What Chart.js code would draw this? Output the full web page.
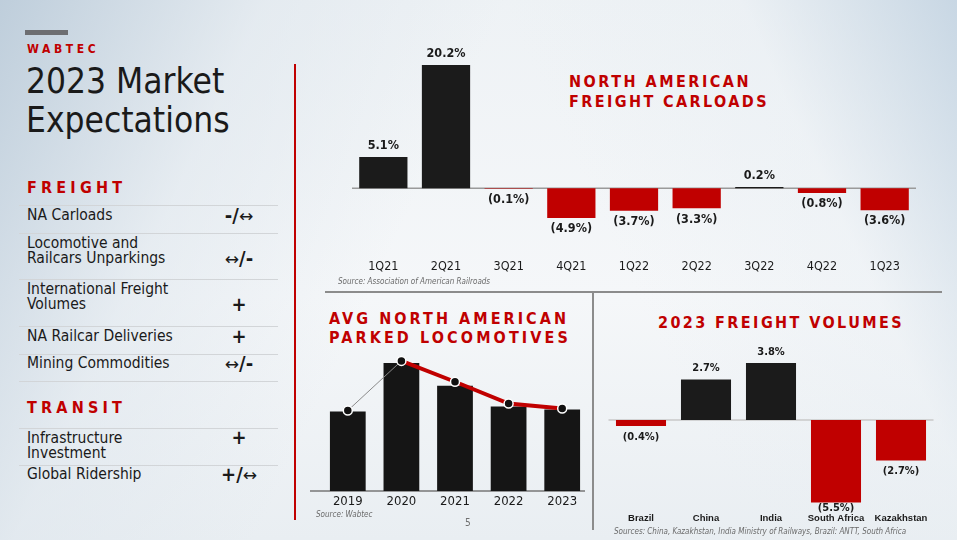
<!DOCTYPE html>
<html>
<head>
<meta charset="utf-8">
<script src="https://cdn.jsdelivr.net/npm/chart.js@4.4.0/dist/chart.umd.min.js"></script>
<style>
body {
  margin: 0; width: 957px; height: 540px; overflow: hidden; position: relative;
  font-family: 'DejaVu Sans Condensed', 'DejaVu Sans', sans-serif; color: #1a1a1a;
  background:
    linear-gradient(115deg, rgba(188,204,218,0.95) 0%, rgba(222,230,237,0.6) 22%, rgba(245,247,249,0) 42%),
    linear-gradient(245deg, rgba(196,212,226,0.9) 0%, rgba(232,238,243,0.4) 18%, rgba(255,255,255,0) 38%),
    linear-gradient(180deg, #eef2f5 0%, #f5f7f9 55%, #e9eef2 100%);
}
.t { position: absolute; white-space: nowrap; }
.red { color: #c00000; font-weight: bold; }
.row { position: absolute; left: 27px; font-size: 15.5px; line-height: 15px; white-space: nowrap; }
.sym { position: absolute; width: 50px; left: 214px; text-align: center; font-size: 18px; line-height: 20px; white-space: nowrap; }
.sym b { font-size: 20px; }
.sym span { font-family: 'DejaVu Sans', sans-serif; font-size: 17px; }
.rule { position: absolute; left: 19px; width: 259px; height: 0; border-top: 1.5px solid #d2d5d8; }
.src { position: absolute; font-size: 8px; font-style: italic; color: #6a6a6a; white-space: nowrap; }
canvas { position: absolute; }
</style>
</head>
<body>

<!-- Panneau de gauche -->
<div class="t" style="left:25px;top:30px;width:43px;height:5px;background:#6d6e71"></div>
<div class="t red" style="left:27px;top:42px;font-size:12px;letter-spacing:3.6px">WABTEC</div>
<div class="t" style="left:26px;top:62px;font-size:35px;line-height:39px">2023 Market<br>Expectations</div>

<div class="t red" style="left:27px;top:178px;font-size:16px;letter-spacing:4.2px">FREIGHT</div>
<div class="rule" style="top:205px"></div>
<div class="row" style="top:208px">NA Carloads</div>
<div class="sym" style="top:205px"><b>-/</b><span>&harr;</span></div>
<div class="rule" style="top:233px"></div>
<div class="row" style="top:236px">Locomotive and<br>Railcars Unparkings</div>
<div class="sym" style="top:248px"><span>&harr;</span><b>/-</b></div>
<div class="rule" style="top:279px"></div>
<div class="row" style="top:282px">International Freight<br>Volumes</div>
<div class="sym" style="top:294px"><b>+</b></div>
<div class="rule" style="top:326px"></div>
<div class="row" style="top:329px">NA Railcar Deliveries</div>
<div class="sym" style="top:326px"><b>+</b></div>
<div class="rule" style="top:354px"></div>
<div class="row" style="top:356px">Mining Commodities</div>
<div class="sym" style="top:353px"><span>&harr;</span><b>/-</b></div>
<div class="rule" style="top:381px"></div>

<div class="t red" style="left:27px;top:398px;font-size:16px;letter-spacing:4.2px">TRANSIT</div>
<div class="rule" style="top:428px"></div>
<div class="row" style="top:431px">Infrastructure<br>Investment</div>
<div class="sym" style="top:427px"><b>+</b></div>
<div class="rule" style="top:465px"></div>
<div class="row" style="top:467px">Global Ridership</div>
<div class="sym" style="top:464px"><b>+/</b><span>&harr;</span></div>

<!-- Séparateurs -->
<div class="t" style="left:294px;top:64px;width:1.5px;height:456px;background:#c00000"></div>
<div class="t" style="left:325px;top:291px;width:617px;height:1.5px;background:#8c8c8c"></div>
<div class="t" style="left:592px;top:293px;width:1.5px;height:237px;background:#8c8c8c"></div>

<!-- Titres -->
<div class="t red fit" data-w="182" style="left:569px;top:72px;font-size:16px">NORTH AMERICAN</div>
<div class="t red fit" data-w="200" style="left:569px;top:92px;font-size:16px">FREIGHT CARLOADS</div>
<div class="t red fit" data-w="240" style="left:329px;top:309px;font-size:16px">AVG NORTH AMERICAN</div>
<div class="t red fit" data-w="242" style="left:329px;top:328px;font-size:16px">PARKED LOCOMOTIVES</div>
<div class="t red fit" data-w="246" style="left:658px;top:313px;font-size:16px">2023 FREIGHT VOLUMES</div>

<!-- Graphiques -->
<canvas id="carloads" width="590" height="245" style="left:340px;top:40px"></canvas>
<canvas id="parked" width="290" height="180" style="left:305px;top:340px"></canvas>
<canvas id="volumes" width="350" height="190" style="left:600px;top:340px"></canvas>

<!-- Sources -->
<div class="src" style="left:338px;top:277px">Source: Association of American Railroads</div>
<div class="src" style="left:316px;top:510px">Source: Wabtec</div>
<div class="t" style="left:465px;top:517px;font-size:10px;color:#707070">5</div>
<div class="src" style="left:614px;top:527px">Sources: China, Kazakhstan, India Ministry of Railways, Brazil: ANTT, South Africa</div>

<script>
// Données
const quarters = ['1Q21', '2Q21', '3Q21', '4Q21', '1Q22', '2Q22', '3Q22', '4Q22', '1Q23'];
const carloadChange = [5.1, 20.2, -0.1, -4.9, -3.7, -3.3, 0.2, -0.8, -3.6];

const years = ['2019', '2020', '2021', '2022', '2023'];
const parkedBars = [80, 129, 106, 85, 82];
const parkedTrend = [81, 131, 110, 88, 83];

const countries = ['Brazil', 'China', 'India', 'South Africa', 'Kazakhstan'];
const volumeChange = [-0.4, 2.7, 3.8, -5.5, -2.7];

const BLACK = '#1b1b1b';
const RED = '#c00000';
const FONT = "'DejaVu Sans Condensed', 'DejaVu Sans', sans-serif";

Chart.defaults.font.family = FONT;
Chart.defaults.color = '#1a1a1a';
Chart.defaults.animation = false;

// Ajuste l'espacement des titres à la largeur voulue
document.querySelectorAll('.fit').forEach(el => {
  const n = el.textContent.length;
  const w = el.getBoundingClientRect().width;
  el.style.letterSpacing = ((+el.dataset.w - w) / n) + 'px';
});

// Etiquettes de valeur au-dessus / en dessous des barres
const valueLabels = {
  id: 'valueLabels',
  afterDatasetsDraw(chart, args, opts) {
    if (!opts.display) return;
    const ctx = chart.ctx;
    const meta = chart.getDatasetMeta(0);
    const data = chart.data.datasets[0].data;
    ctx.save();
    ctx.font = opts.font;
    ctx.fillStyle = '#1a1a1a';
    ctx.textAlign = 'center';
    ctx.textBaseline = 'middle';
    meta.data.forEach((bar, i) => {
      const v = data[i];
      const txt = v < 0 ? '(' + Math.abs(v).toFixed(1) + '%)' : v.toFixed(1) + '%';
      let y = v < 0 ? bar.y + opts.offset : bar.y - opts.offset;
      y = Math.min(y, chart.chartArea.bottom);
      ctx.fillText(txt, bar.x, y);
    });
    ctx.restore();
  }
};

// Ligne de base à zéro
const baseline = {
  id: 'baseline',
  beforeDatasetsDraw(chart, args, opts) {
    const ctx = chart.ctx;
    const y = chart.scales.y.getPixelForValue(0);
    const area = chart.chartArea;
    ctx.save();
    ctx.strokeStyle = opts.color || '#999';
    ctx.lineWidth = opts.width || 1.5;
    ctx.beginPath();
    ctx.moveTo(area.left - (opts.extendLeft || 0), y);
    ctx.lineTo(area.right + (opts.extendRight || 0), y);
    ctx.stroke();
    ctx.restore();
  }
};

function xAxis(height, padding, font) {
  return {
    grid: { display: false, drawTicks: false },
    border: { display: false },
    ticks: { padding: padding, font: font, color: '#1a1a1a', maxRotation: 0, autoSkip: false },
    afterFit: (s) => { s.height = height; }
  };
}

// North American freight carloads
new Chart(document.getElementById('carloads'), {
  type: 'bar',
  data: {
    labels: quarters,
    datasets: [{
      data: carloadChange,
      backgroundColor: carloadChange.map(v => v < 0 ? RED : BLACK),
      barPercentage: 0.77,
      categoryPercentage: 1
    }]
  },
  options: {
    responsive: false,
    layout: { padding: { left: 12, right: 14, top: 14, bottom: 0 } },
    scales: {
      x: xAxis(48, 22, { size: 12.5 }),
      y: { display: false, min: -8, max: 22 }
    },
    plugins: {
      legend: { display: false },
      tooltip: { enabled: false },
      valueLabels: { display: true, font: 'bold 12.5px ' + FONT, offset: 11 },
      baseline: { color: '#9a9a9a', width: 1.5 }
    }
  },
  plugins: [baseline, valueLabels]
});

// Avg North American parked locomotives
new Chart(document.getElementById('parked'), {
  data: {
    labels: years,
    datasets: [
      {
        type: 'line',
        data: parkedTrend,
        order: 0,
        borderColor: RED,
        segment: {
          borderColor: (c) => c.p0DataIndex === 0 ? '#8a8a8a' : RED,
          borderWidth: (c) => c.p0DataIndex === 0 ? 1 : 4
        },
        pointRadius: 4.5,
        pointBackgroundColor: '#111',
        pointBorderColor: '#ffffff',
        pointBorderWidth: 1.5
      },
      {
        type: 'bar',
        data: parkedBars,
        order: 1,
        backgroundColor: '#151515',
        barPercentage: 0.667,
        categoryPercentage: 1
      }
    ]
  },
  options: {
    responsive: false,
    layout: { padding: { left: 16, right: 4, top: 5, bottom: 0 } },
    scales: {
      x: xAxis(29, 3, { size: 13 }),
      y: { display: false, min: 0, max: 146 }
    },
    plugins: {
      legend: { display: false },
      tooltip: { enabled: false },
      baseline: { color: '#777', width: 1.5, extendLeft: 11, extendRight: -4 }
    }
  },
  plugins: [baseline]
});

// 2023 freight volumes
new Chart(document.getElementById('volumes'), {
  type: 'bar',
  data: {
    labels: countries,
    datasets: [{
      data: volumeChange,
      backgroundColor: volumeChange.map(v => v < 0 ? RED : BLACK),
      barPercentage: 0.77,
      categoryPercentage: 1
    }]
  },
  options: {
    responsive: false,
    layout: { padding: { left: 8.5, right: 16.5, top: 11, bottom: 0 } },
    scales: {
      x: xAxis(21.5, 4, { size: 9.5, weight: 'bold', family: "'Liberation Sans', Arial, sans-serif" }),
      y: { display: false, min: -5.9, max: 4.6 }
    },
    plugins: {
      legend: { display: false },
      tooltip: { enabled: false },
      valueLabels: { display: true, font: 'bold 11px ' + FONT, offset: 11 },
      baseline: { color: '#c8c8c8', width: 1.5 }
    }
  },
  plugins: [baseline, valueLabels]
});
</script>
</body>
</html>
